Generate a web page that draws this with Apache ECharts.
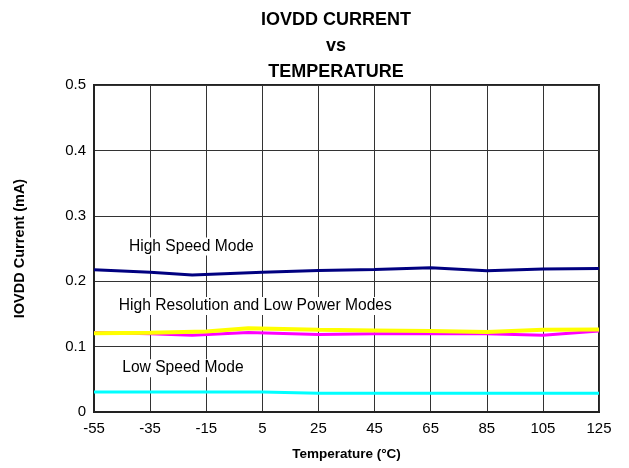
<!DOCTYPE html>
<html>
<head>
<meta charset="utf-8">
<script src="https://cdn.jsdelivr.net/npm/echarts@6/dist/echarts.min.js"></script>
<style>
  html, body { margin: 0; padding: 0; background: #fff; }
  #chart { width: 629px; height: 468px; }
</style>
</head>
<body>
<div id="chart"></div>
<script>
// Temperature axis (°C) and current axis (mA)
const xTicks = [-55, -35, -15, 5, 25, 45, 65, 85, 105, 125];
const yTicks = [0, 0.1, 0.2, 0.3, 0.4, 0.5];

// High Speed Mode
const highSpeedTemps = [-55, -35, -20, 5, 25, 45, 65, 85, 105, 125];
const highSpeedValues = [0.2175, 0.2135, 0.2095, 0.2135, 0.2165, 0.218, 0.2205, 0.216, 0.2185, 0.2195];

// Low Power Mode
const lowPowerTemps = [-55, -35, -20, 0, 25, 45, 65, 85, 105, 125];
const lowPowerValues = [0.1215, 0.1195, 0.1175, 0.1215, 0.1185, 0.1195, 0.12, 0.1195, 0.1175, 0.124];

// High Resolution Mode
const highResTemps = [-55, -35, -15, 0, 25, 45, 65, 85, 105, 125];
const highResValues = [0.1205, 0.121, 0.123, 0.128, 0.1256, 0.1248, 0.124, 0.1225, 0.1256, 0.126];

// Low Speed Mode
const lowSpeedTemps = [-55, -35, -15, 5, 25, 45, 65, 85, 105, 125];
const lowSpeedValues = [0.0305, 0.0305, 0.0305, 0.0305, 0.0285, 0.0285, 0.0285, 0.0285, 0.0285, 0.0285];

// Curve annotations, anchored in data coordinates
const notes = [
  { text: 'High Speed Mode', at: [-20.3, 0.253] },
  { text: 'High Resolution and Low Power Modes', at: [2.5, 0.162] },
  { text: 'Low Speed Mode', at: [-23.3, 0.067] }
];

const FONT = 'Liberation Sans, Arial, Helvetica, sans-serif';
const pairs = (t, v) => t.map((x, i) => [x, v[i]]);

const chart = echarts.init(document.getElementById('chart'), null, { renderer: 'canvas' });

const line = (name, temps, values, color, width) => ({
  name,
  type: 'line',
  data: pairs(temps, values),
  showSymbol: false,
  smooth: false,
  animation: false,
  lineStyle: { color, width },
  itemStyle: { color }
});

chart.setOption({
  animation: false,
  backgroundColor: '#fff',
  title: {
    text: 'IOVDD CURRENT\nvs\nTEMPERATURE',
    left: 331,
    top: 2,
    textAlign: 'center',
    textStyle: { fontFamily: FONT, fontSize: 18, fontWeight: 'bold', color: '#000', lineHeight: 26 }
  },
  grid: {
    left: 94, right: 30, top: 85, bottom: 56,
    show: true, borderColor: '#222', borderWidth: 2, backgroundColor: 'transparent'
  },
  xAxis: {
    type: 'value',
    min: xTicks[0],
    max: xTicks[xTicks.length - 1],
    interval: xTicks[1] - xTicks[0],
    name: 'Temperature (°C)',
    nameLocation: 'middle',
    nameGap: 35,
    nameTextStyle: { fontFamily: FONT, fontSize: 13.5, fontWeight: 'bold', color: '#000' },
    axisLine: { show: true, onZero: false, lineStyle: { color: '#222', width: 2 } },
    axisTick: { show: false },
    axisLabel: { fontFamily: FONT, fontSize: 15, color: '#000', margin: 9, showMinLabel: true, showMaxLabel: true },
    splitLine: { show: true, lineStyle: { color: '#333', width: 1 } }
  },
  yAxis: {
    type: 'value',
    min: yTicks[0],
    max: yTicks[yTicks.length - 1],
    interval: 0.1,
    name: 'IOVDD Current (mA)',
    nameLocation: 'middle',
    nameGap: 67,
    nameRotate: 90,
    nameTextStyle: { fontFamily: FONT, fontSize: 14.5, fontWeight: 'bold', color: '#000' },
    axisLine: { show: true, onZero: false, lineStyle: { color: '#222', width: 2 } },
    axisTick: { show: false },
    axisLabel: { fontFamily: FONT, fontSize: 15, color: '#000', margin: 8 },
    splitLine: { show: true, lineStyle: { color: '#333', width: 1 } }
  },
  series: [
    line('High Speed Mode', highSpeedTemps, highSpeedValues, '#000080', 3),
    line('Low Power Mode', lowPowerTemps, lowPowerValues, '#ff00ff', 3),
    line('High Resolution Mode', highResTemps, highResValues, '#ffff00', 4),
    line('Low Speed Mode', lowSpeedTemps, lowSpeedValues, '#00ffff', 3)
  ]
});

// Place the annotations through the chart's own coordinate system
chart.setOption({
  graphic: notes.map(n => {
    const p = chart.convertToPixel({ gridIndex: 0 }, n.at);
    return {
      type: 'text',
      x: p[0],
      y: p[1],
      z: 10,
      style: {
        text: n.text,
        fontFamily: FONT,
        fontSize: 15.6,
        fill: '#000',
        align: 'center',
        verticalAlign: 'middle',
        backgroundColor: '#fff',
        padding: [1, 3]
      }
    };
  })
});
</script>
</body>
</html>
